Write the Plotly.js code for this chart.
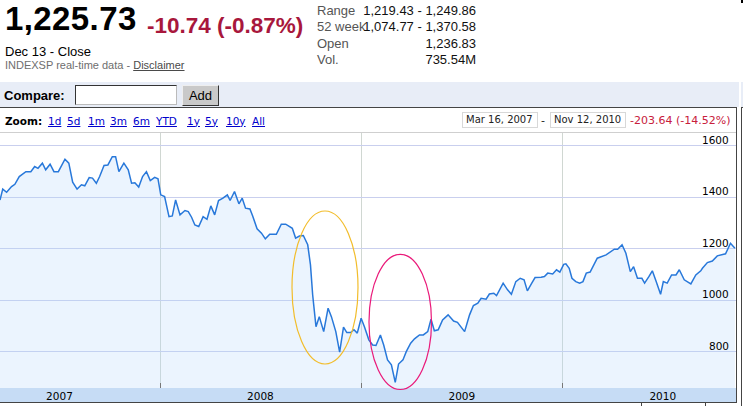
<!DOCTYPE html>
<html>
<head>
<meta charset="utf-8">
<script src="https://cdn.plot.ly/plotly-3.0.1.min.js"></script>
<style>
  html, body { margin:0; padding:0; width:743px; height:406px; overflow:hidden; background:#fff; }
  .a { position:absolute; white-space:nowrap; line-height:1; }
  .arial { font-family:"Liberation Sans", Arial, sans-serif; }
  .dv { font-family:"DejaVu Sans", Verdana, sans-serif; }
  #plot { position:absolute; left:0; top:132px; width:743px; height:274px; }
  .lnk { color:#0000cc; text-decoration:underline; }
  .dbox { position:absolute; top:112px; height:14px; border:1px solid #d8d8d8; background:#fff;
          font-family:"DejaVu Sans", Verdana, sans-serif; font-size:10px; line-height:14px; color:#222; padding-left:3px; box-sizing:content-box; }
</style>
</head>
<body>
<!-- quote header -->
<div class="a arial" style="left:5px; top:2px; font-size:33px; font-weight:bold; color:#000; letter-spacing:0.4px;">1,225.73</div>
<div class="a arial" style="left:147px; top:15px; font-size:22.5px; font-weight:bold; color:#a8173c;">-10.74 (-0.87%)</div>
<div class="a arial" style="left:5px; top:45px; font-size:13px; color:#000;">Dec 13 - Close</div>
<div class="a arial" style="left:5px; top:60px; font-size:11px; color:#6e6e6e;">INDEXSP real-time data - <span style="text-decoration:underline; color:#4a4a4a;">Disclaimer</span></div>

<div class="a arial" style="left:317px; top:3.5px; font-size:13px; color:#555;">Range</div>
<div class="a arial" style="left:317px; top:20px; font-size:13px; color:#555;">52 week</div>
<div class="a arial" style="left:317px; top:36.5px; font-size:13px; color:#555;">Open</div>
<div class="a arial" style="left:317px; top:52.5px; font-size:13px; color:#555;">Vol.</div>
<div class="a arial" style="right:267px; top:3.5px; font-size:13px; color:#111; text-align:right;">1,219.43 - 1,249.86</div>
<div class="a arial" style="right:267px; top:20px; font-size:13px; color:#111; text-align:right;">1,074.77 - 1,370.58</div>
<div class="a arial" style="right:267px; top:36.5px; font-size:13px; color:#111; text-align:right;">1,236.83</div>
<div class="a arial" style="right:267px; top:52.5px; font-size:13px; color:#111; text-align:right;">735.54M</div>
<div style="position:absolute; left:741px; top:0; width:2px; height:3px; background:#000;"></div>

<!-- compare bar -->
<div style="position:absolute; left:0; top:82px; width:739px; height:25px; background:#e8edf7;"></div>
<div style="position:absolute; left:741px; top:82px; width:2px; height:25px; background:#e8edf7;"></div>
<div class="a arial" style="left:4px; top:89px; font-size:13px; font-weight:bold; color:#000;">Compare:</div>
<div style="position:absolute; left:75px; top:85px; width:100px; height:18px; background:#fff; border-top:1px solid #333; border-left:1px solid #333; border-right:1px solid #bbb; border-bottom:1px solid #bbb;"></div>
<div class="arial" style="position:absolute; left:182px; top:85px; width:35px; height:19px; background:#c9c9c9; border-top:1px solid #eee; border-left:1px solid #eee; border-right:1px solid #333; border-bottom:1px solid #333; font-size:13px; line-height:19px; text-align:center; color:#000; box-sizing:content-box;">Add</div>
<div style="position:absolute; left:0; top:107px; width:737px; height:1px; background:#444;"></div>
<div style="position:absolute; left:741px; top:107px; width:2px; height:1px; background:#444;"></div>

<!-- zoom row -->
<div class="a dv" style="left:5px; top:115.5px; font-size:10.5px; font-weight:bold; color:#000;">Zoom:</div>
<div class="a dv lnk" style="left:48px; top:115.5px; font-size:10.5px;">1d</div>
<div class="a dv lnk" style="left:67px; top:115.5px; font-size:10.5px;">5d</div>
<div class="a dv lnk" style="left:88px; top:115.5px; font-size:10.5px;">1m</div>
<div class="a dv lnk" style="left:110px; top:115.5px; font-size:10.5px;">3m</div>
<div class="a dv lnk" style="left:133px; top:115.5px; font-size:10.5px;">6m</div>
<div class="a dv lnk" style="left:156px; top:115.5px; font-size:10.5px;">YTD</div>
<div class="a dv lnk" style="left:187px; top:115.5px; font-size:10.5px;">1y</div>
<div class="a dv lnk" style="left:205px; top:115.5px; font-size:10.5px;">5y</div>
<div class="a dv lnk" style="left:226px; top:115.5px; font-size:10.5px;">10y</div>
<div class="a dv lnk" style="left:252px; top:115.5px; font-size:10.5px;">All</div>
<div class="dbox" style="left:462px; width:71px;">Mar 16, 2007</div>
<div class="a dv" style="left:541px; top:115px; font-size:11px; color:#222;">-</div>
<div class="dbox" style="left:550px; width:71px;">Nov 12, 2010</div>
<div class="a dv" style="left:630px; top:115px; font-size:11px; color:#c8203c;">-203.64 (-14.52%)</div>

<div id="plot"></div>
<div style="position:absolute; left:0; top:132px; width:736px; height:1px; background:#cfcfcf;"></div>
<div style="position:absolute; left:736px; top:107px; width:1px; height:296px; background:#444;"></div>
<div style="position:absolute; left:741px; top:107px; width:1px; height:299px; background:#444;"></div>
<div style="position:absolute; left:0; top:402px; width:737px; height:1px; background:#444;"></div>
<div style="position:absolute; left:641px; top:402px; width:1px; height:4px; background:#444;"></div>
<div style="position:absolute; left:705px; top:402px; width:1px; height:4px; background:#444;"></div>

<script>
// ---- data (S&P 500, INDEXSP) ----
const dates = [
 '2007-03-16','2007-03-21','2007-03-28','2007-04-06','2007-04-12','2007-04-20','2007-05-02','2007-05-11',
 '2007-05-18','2007-05-24','2007-06-01','2007-06-07','2007-06-15','2007-06-22','2007-06-30','2007-07-12',
 '2007-07-19','2007-07-26','2007-08-03','2007-08-11','2007-08-17','2007-08-25','2007-08-31','2007-09-07',
 '2007-09-13','2007-09-21','2007-09-28','2007-10-06','2007-10-12','2007-10-18','2007-10-27','2007-11-04',
 '2007-11-10','2007-11-16','2007-11-23','2007-11-30','2007-12-07','2007-12-14','2007-12-22','2007-12-28',
 '2008-01-02','2008-01-09','2008-01-17','2008-01-23','2008-01-29','2008-02-06','2008-02-15','2008-02-21',
 '2008-02-27','2008-03-04','2008-03-11','2008-03-19','2008-03-26','2008-04-02','2008-04-09','2008-04-16',
 '2008-04-24','2008-05-02','2008-05-07','2008-05-15','2008-05-23','2008-05-29','2008-06-04','2008-06-12',
 '2008-06-17','2008-06-25','2008-07-03','2008-07-10','2008-07-18','2008-07-30','2008-08-08','2008-08-16',
 '2008-08-28','2008-09-03','2008-09-10','2008-09-17','2008-09-25','2008-09-30','2008-10-04','2008-10-10',
 '2008-10-16','2008-10-24','2008-11-01','2008-11-07','2008-11-15','2008-11-22','2008-11-29','2008-12-05',
 '2008-12-12','2008-12-18','2008-12-24','2008-12-31','2009-01-06','2009-01-14','2009-01-21','2009-01-27',
 '2009-02-04','2009-02-10','2009-02-17','2009-02-24','2009-03-03','2009-03-09','2009-03-17','2009-03-23',
 '2009-03-31','2009-04-07','2009-04-16','2009-04-23','2009-05-01','2009-05-07','2009-05-13','2009-05-20',
 '2009-05-28','2009-06-07','2009-06-17','2009-06-24','2009-07-07','2009-07-16','2009-07-23','2009-07-31',
 '2009-08-06','2009-08-15','2009-08-21','2009-08-29','2009-09-03','2009-09-08','2009-09-15','2009-09-23',
 '2009-09-30','2009-10-08','2009-10-16','2009-10-23','2009-10-29','2009-11-06','2009-11-12','2009-11-23',
 '2009-11-29','2009-12-05','2009-12-14','2009-12-21','2009-12-27','2010-01-03','2010-01-07','2010-01-13',
 '2010-01-18','2010-01-25','2010-02-01','2010-02-07','2010-02-13','2010-02-20','2010-02-27','2010-03-05',
 '2010-03-21','2010-03-28','2010-04-05','2010-04-11','2010-04-19','2010-04-26','2010-05-01','2010-05-04',
 '2010-05-10','2010-05-17','2010-05-25','2010-05-30','2010-06-07','2010-06-13','2010-06-20','2010-06-28',
 '2010-07-03','2010-07-10','2010-07-18','2010-07-26','2010-08-01','2010-08-10','2010-08-22','2010-08-31',
 '2010-09-09','2010-09-12','2010-09-21','2010-09-30','2010-10-09','2010-10-24','2010-11-02','2010-11-10'
];
const closes = [
 1390,1432,1420,1442,1451,1481,1500,1500,
 1520,1513,1533,1507,1529,1500,1500,1548,
 1533,1459,1432,1449,1445,1477,1475,1455,
 1481,1524,1526,1558,1558,1500,1533,1507,
 1455,1457,1440,1481,1500,1465,1478,1472,
 1410,1403,1325,1328,1390,1332,1349,1345,
 1323,1293,1287,1325,1315,1367,1332,1388,
 1397,1410,1388,1423,1375,1397,1358,1355,
 1328,1278,1261,1239,1257,1257,1296,1296,
 1280,1242,1250,1252,1216,1138,1021,898,
 937,879,970,937,879,799,896,875,
 875,886,873,931,898,847,827,825,
 866,827,769,750,682,753,769,801,
 834,851,866,866,879,927,882,886,
 924,944,920,915,879,944,980,989,
 1008,1005,1025,1028,1019,1037,1067,1041,
 1024,1073,1086,1080,1037,1067,1089,1090,
 1093,1106,1103,1119,1110,1140,1142,1125,
 1086,1073,1067,1073,1106,1110,1138,1164,
 1177,1186,1199,1199,1216,1183,1138,1112,
 1131,1086,1086,1067,1093,1115,1073,1024,
 1073,1067,1099,1099,1119,1080,1064,1099,
 1115,1125,1147,1153,1173,1181,1222,1203
];
const yearLabelDates = ['2007-07-02','2008-07-01','2009-07-02','2010-07-02'];
const yearLabels = ['2007','2008','2009','2010'];
const yearStarts = ['2008-01-01','2009-01-01','2010-01-01'];
const priceTicks = [800,1000,1200,1400,1600];
const priceLabels = ['800','1000','1200','1400','1600'];
const rangeStart = '2007-03-16';
const rangeEnd = '2010-11-12';

const trace = {
  type:'scatter', mode:'lines', x:dates, y:closes,
  line:{color:'#2878da', width:1.5},
  fill:'tozeroy', fillcolor:'rgba(180,215,250,0.27)',
  hoverinfo:'x+y'
};

const labelFont = {family:'DejaVu Sans, Verdana, sans-serif', size:10.5, color:'#000'};

// y tick labels sit just above their gridlines, right-aligned inside the plot
const yLabelAnnotations = priceTicks.map((v, i) => ({
  xref:'paper', yref:'y', x:1, y:v, text:priceLabels[i],
  xanchor:'right', yanchor:'bottom', xshift:-5, yshift:-2,
  showarrow:false, font:labelFont
}));

const layout = {
  width:743, height:274,
  margin:{l:0, r:7, t:1, b:18},
  paper_bgcolor:'rgba(0,0,0,0)', plot_bgcolor:'#ffffff',
  showlegend:false,
  xaxis:{
    type:'date', range:[rangeStart, rangeEnd],
    tickmode:'array', tickvals:yearLabelDates, ticktext:yearLabels,
    ticks:'', showgrid:false, zeroline:false, showline:false,
    tickfont:labelFont,
    minor:{tickmode:'array', tickvals:yearStarts, showgrid:true, gridcolor:'#d0d7d2', gridwidth:1,
           ticks:'inside', ticklen:5, tickcolor:'#777', tickwidth:1},
    fixedrange:true
  },
  yaxis:{
    side:'right', range:[660,1650],
    tickmode:'array', tickvals:priceTicks, showticklabels:false, ticks:'',
    showgrid:true, gridcolor:'#c9cfee', gridwidth:1,
    zeroline:false, showline:false,
    fixedrange:true
  },
  annotations:yLabelAnnotations,
  shapes:[
    {type:'rect', xref:'paper', yref:'paper', x0:0, x1:1, y0:-14.5/255, y1:0,
     fillcolor:'#c6dcf5', line:{width:0}, layer:'below'},
    {type:'circle', xref:'paper', yref:'paper', x0:292/736, x1:358/736, y0:(388-364)/255, y1:(388-211)/255,
     line:{color:'#f2bd2c', width:1.2}, fillcolor:'rgba(0,0,0,0)'},
    {type:'circle', xref:'paper', yref:'paper', x0:369/736, x1:431.5/736, y0:(388-389.5)/255, y1:(388-254.3)/255,
     line:{color:'#ea1a7a', width:1.2}, fillcolor:'rgba(0,0,0,0)'}
  ]
};

Plotly.newPlot('plot', [trace], layout, {displayModeBar:false});
</script>
</body>
</html>
